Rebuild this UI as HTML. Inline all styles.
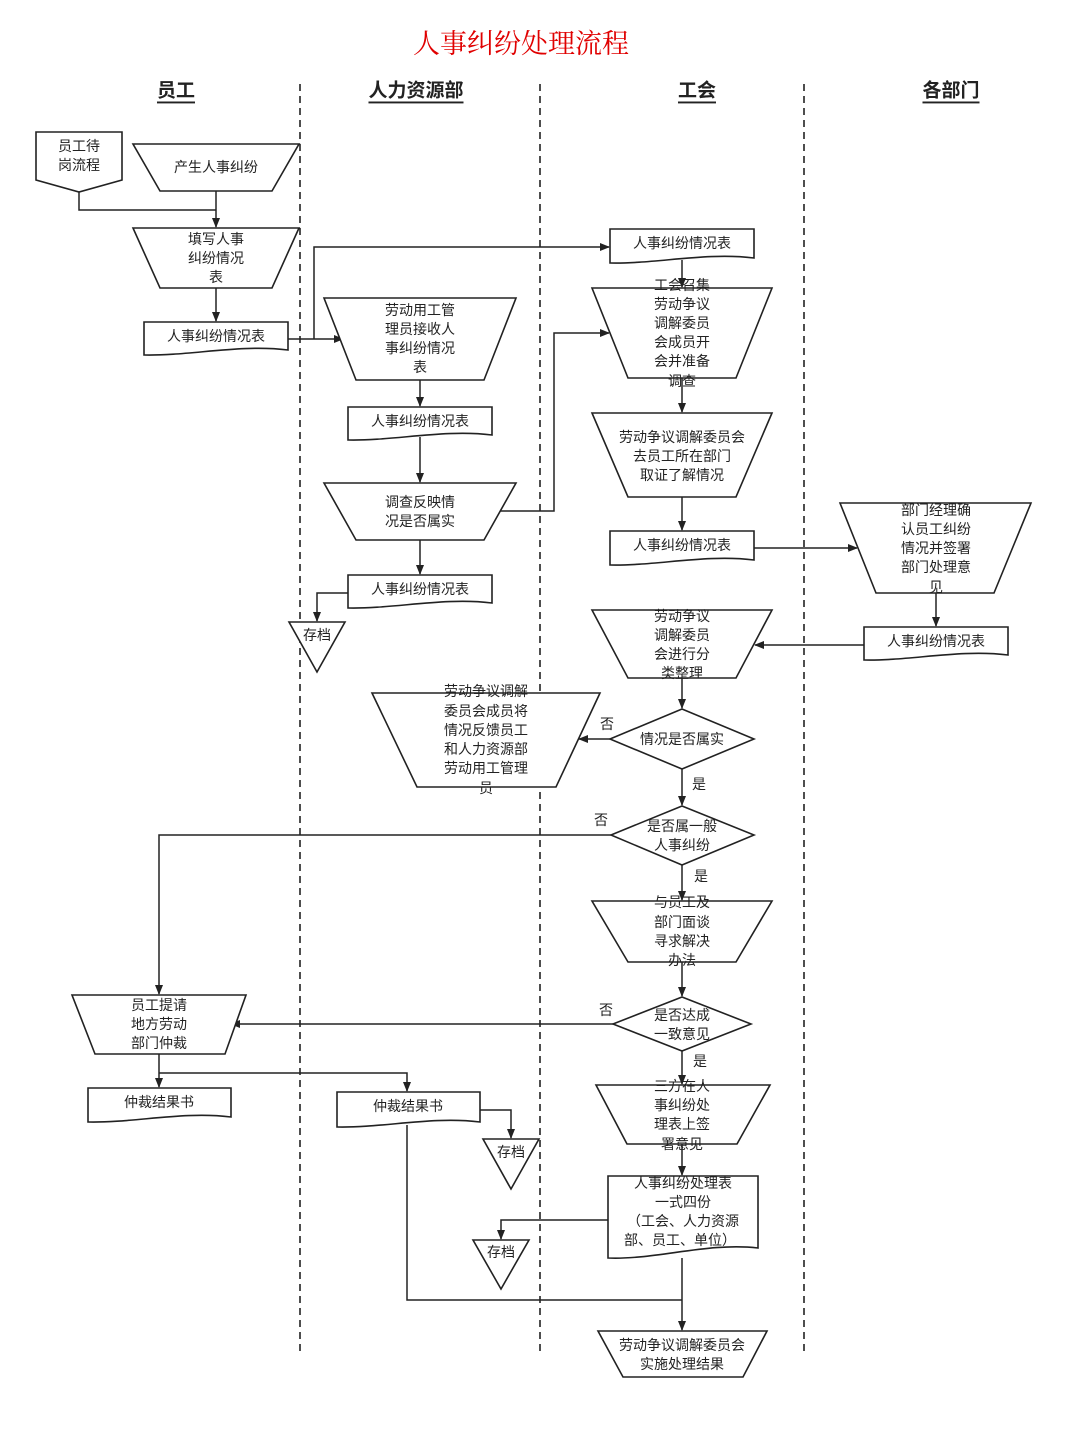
<!DOCTYPE html>
<html><head><meta charset="utf-8"><style>
html,body{margin:0;padding:0;background:#fff;}
svg{display:block;}
text{font-family:"Liberation Sans","Noto Sans CJK SC",sans-serif;font-size:14px;fill:#222;text-anchor:middle;dominant-baseline:central;}
.s{fill:#fff;stroke:#222;stroke-width:1.6;}
.l{fill:none;stroke:#222;stroke-width:1.5;}
.d{stroke:#222;stroke-width:1.6;stroke-dasharray:7,5;}
.h{font-size:19px;font-weight:bold;text-decoration:underline;}
</style></head><body>
<svg width="1080" height="1440" viewBox="0 0 1080 1440" xmlns="http://www.w3.org/2000/svg">
<defs><marker id="a" markerWidth="10" markerHeight="10" refX="9" refY="5" orient="auto" markerUnits="userSpaceOnUse"><path d="M0,1 L10,5 L0,9 Z" fill="#222"/></marker></defs>

<text x="521" y="44" style="font-family:'Liberation Serif','Noto Serif CJK SC',serif;font-size:27px;fill:#e00000">人事纠纷处理流程</text>
<text class="h" x="176" y="91">员工</text>
<text class="h" x="416" y="91">人力资源部</text>
<text class="h" x="697" y="91">工会</text>
<text class="h" x="951" y="91">各部门</text>
<line class="d" x1="300" y1="84" x2="300" y2="1356"/>
<line class="d" x1="540" y1="84" x2="540" y2="1356"/>
<line class="d" x1="804" y1="84" x2="804" y2="1356"/>

<!-- connectors -->
<g class="l">
<path d="M79,192 V210 H216"/>
<path d="M216,191 V227" marker-end="url(#a)"/>
<path d="M216,288 V321" marker-end="url(#a)"/>
<path d="M288,339 H343" marker-end="url(#a)"/>
<path d="M314,339 V247 H609" marker-end="url(#a)"/>
<path d="M420,380 V406" marker-end="url(#a)"/>
<path d="M420,437 V482" marker-end="url(#a)"/>
<path d="M497,511 H554 V333 H609" marker-end="url(#a)"/>
<path d="M420,540 V574" marker-end="url(#a)"/>
<path d="M348,593 H317 V621" marker-end="url(#a)"/>
<path d="M682,260 V287" marker-end="url(#a)"/>
<path d="M682,378 V412" marker-end="url(#a)"/>
<path d="M682,497 V530" marker-end="url(#a)"/>
<path d="M754,548 H857" marker-end="url(#a)"/>
<path d="M936,593 V626" marker-end="url(#a)"/>
<path d="M864,645 H755" marker-end="url(#a)"/>
<path d="M682,678 V708" marker-end="url(#a)"/>
<path d="M610,739 H579" marker-end="url(#a)"/>
<path d="M682,769 V805" marker-end="url(#a)"/>
<path d="M611,835 H159 V994" marker-end="url(#a)"/>
<path d="M682,865 V900" marker-end="url(#a)"/>
<path d="M682,962 V996" marker-end="url(#a)"/>
<path d="M613,1024 H231" marker-end="url(#a)"/>
<path d="M159,1054 V1087" marker-end="url(#a)"/>
<path d="M159,1073 H407 V1091" marker-end="url(#a)"/>
<path d="M480,1110 H511 V1138" marker-end="url(#a)"/>
<path d="M407,1125 V1300 H682"/>
<path d="M682,1051 V1084" marker-end="url(#a)"/>
<path d="M682,1144 V1175" marker-end="url(#a)"/>
<path d="M608,1220 H501 V1239" marker-end="url(#a)"/>
<path d="M682,1258 V1330" marker-end="url(#a)"/>
</g>

<!-- shapes -->
<path class="s" d="M36,132 H122 V180 L79,192 L36,180 Z"/>
<text x="79" y="146">员工待</text><text x="79" y="165">岗流程</text>

<path class="s" d="M133,144 H299 L272,191 H160 Z"/>
<text x="216" y="167">产生人事纠纷</text>

<path class="s" d="M133,228 H299 L272,288 H160 Z"/>
<text x="216" y="239">填写人事</text><text x="216" y="258">纠纷情况</text><text x="216" y="277">表</text>

<path class="s" d="M144,322 H288 V350 C240,344 190,356 144,355 Z"/>
<text x="216" y="336">人事纠纷情况表</text>

<path class="s" d="M324,298 H516 L484,380 H356 Z"/>
<text x="420" y="310">劳动用工管</text><text x="420" y="329">理员接收人</text><text x="420" y="348">事纠纷情况</text><text x="420" y="367">表</text>

<path class="s" d="M348,407 H492 V435 C444,429 394,441 348,440 Z"/>
<text x="420" y="421">人事纠纷情况表</text>

<path class="s" d="M324,483 H516 L484,540 H356 Z"/>
<text x="420" y="502">调查反映情</text><text x="420" y="521">况是否属实</text>

<path class="s" d="M348,575 H492 V603 C444,597 394,609 348,608 Z"/>
<text x="420" y="589">人事纠纷情况表</text>

<path class="s" d="M289,622 H345 L317,672 Z"/>
<text x="317" y="635">存档</text>

<path class="s" d="M610,229 H754 V258 C706,252 656,264 610,263 Z"/>
<text x="682" y="243">人事纠纷情况表</text>

<path class="s" d="M592,288 H772 L736,378 H628 Z"/>
<text x="682" y="285">工会召集</text><text x="682" y="304">劳动争议</text><text x="682" y="323">调解委员</text><text x="682" y="342">会成员开</text><text x="682" y="361">会并准备</text><text x="682" y="381">调查</text>

<path class="s" d="M592,413 H772 L736,497 H628 Z"/>
<text x="682" y="437">劳动争议调解委员会</text><text x="682" y="456">去员工所在部门</text><text x="682" y="475">取证了解情况</text>

<path class="s" d="M610,531 H754 V560 C706,554 656,566 610,565 Z"/>
<text x="682" y="545">人事纠纷情况表</text>

<path class="s" d="M840,503 H1031 L994,593 H876 Z"/>
<text x="936" y="510">部门经理确</text><text x="936" y="529">认员工纠纷</text><text x="936" y="548">情况并签署</text><text x="936" y="567">部门处理意</text><text x="936" y="587">见</text>

<path class="s" d="M864,627 H1008 V655 C960,649 910,661 864,660 Z"/>
<text x="936" y="641">人事纠纷情况表</text>

<path class="s" d="M592,610 H772 L736,678 H628 Z"/>
<text x="682" y="616">劳动争议</text><text x="682" y="635">调解委员</text><text x="682" y="654">会进行分</text><text x="682" y="673">类整理</text>

<path class="s" d="M372,693 H600 L556,787 H417 Z"/>
<text x="486" y="691">劳动争议调解</text><text x="486" y="711">委员会成员将</text><text x="486" y="730">情况反馈员工</text><text x="486" y="749">和人力资源部</text><text x="486" y="768">劳动用工管理</text><text x="486" y="788">员</text>

<path class="s" d="M610,739 L682,709 L754,739 L682,769 Z"/>
<text x="682" y="739">情况是否属实</text>
<text x="607" y="724">否</text><text x="699" y="784">是</text>

<path class="s" d="M611,835 L682,806 L754,835 L682,865 Z"/>
<text x="682" y="826">是否属一般</text><text x="682" y="845">人事纠纷</text>
<text x="601" y="820">否</text><text x="701" y="876">是</text>

<path class="s" d="M592,901 H772 L736,962 H628 Z"/>
<text x="682" y="902">与员工及</text><text x="682" y="922">部门面谈</text><text x="682" y="941">寻求解决</text><text x="682" y="960">办法</text>

<path class="s" d="M613,1024 L682,997 L751,1024 L682,1051 Z"/>
<text x="682" y="1015">是否达成</text><text x="682" y="1034">一致意见</text>
<text x="606" y="1010">否</text><text x="700" y="1061">是</text>

<path class="s" d="M72,995 H246 L225,1054 H95 Z"/>
<text x="159" y="1005">员工提请</text><text x="159" y="1024">地方劳动</text><text x="159" y="1043">部门仲裁</text>

<path class="s" d="M88,1088 H231 V1117 C183,1111 134,1123 88,1122 Z"/>
<text x="159" y="1102">仲裁结果书</text>

<path class="s" d="M337,1092 H480 V1122 C432,1116 383,1128 337,1127 Z"/>
<text x="408" y="1106">仲裁结果书</text>

<path class="s" d="M483,1139 H539 L511,1189 Z"/>
<text x="511" y="1152">存档</text>

<path class="s" d="M596,1085 H770 L737,1144 H627 Z"/>
<text x="682" y="1086">三方在人</text><text x="682" y="1105">事纠纷处</text><text x="682" y="1124">理表上签</text><text x="682" y="1144">署意见</text>

<path class="s" d="M608,1176 H758 V1248 C708,1242 656,1260 608,1258 Z"/>
<text x="683" y="1183">人事纠纷处理表</text><text x="683" y="1202">一式四份</text><text x="683" y="1221">（工会、人力资源</text><text x="680" y="1240">部、员工、单位）</text>

<path class="s" d="M473,1240 H529 L501,1289 Z"/>
<text x="501" y="1252">存档</text>

<path class="s" d="M598,1331 H767 L743,1377 H623 Z"/>
<text x="682" y="1345">劳动争议调解委员会</text><text x="682" y="1364">实施处理结果</text>
</svg>
</body></html>
